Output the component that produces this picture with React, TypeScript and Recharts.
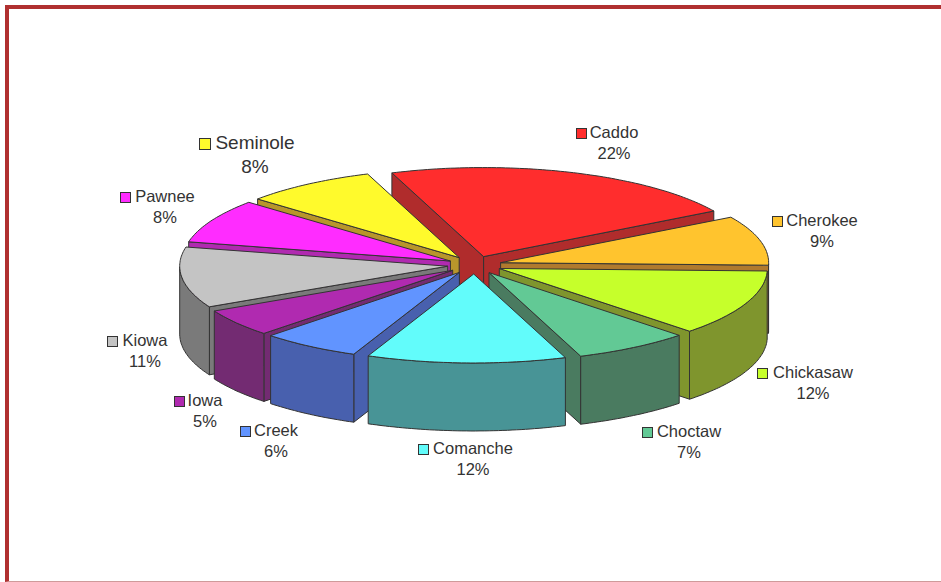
import React from 'react'
import { PieChart, Pie } from 'recharts'

const tribes = ['Caddo', 'Cherokee', 'Chickasaw', 'Choctaw', 'Comanche', 'Creek', 'Iowa', 'Kiowa', 'Pawnee', 'Seminole']
const shares = [22, 9, 12, 7, 12, 6, 5, 11, 8, 8]
const topColors = ['#ff2d2d', '#ffc42e', '#c6ff2b', '#62c995', '#62fcfb', '#6194ff', '#b02ab0', '#c4c4c4', '#ff2cff', '#fffa2c']
const wallColors = ['#b02c2c', '#b07a2e', '#7f952d', '#4a7b60', '#489496', '#4860ae', '#732b72', '#7a7a7a', '#b02ab0', '#b8962b']
// painted back to front, one half of the pie from each side
const rightHalf = ['Caddo', 'Cherokee', 'Chickasaw', 'Choctaw']

const CX = 469.5
const CY = 260
const RX = 268
const SQUASH = 89 / 268
const DEPTH = 68
const EXPLODE = 27
const RAD = Math.PI / 180

const rows = tribes.map((name, i) => ({ name, value: shares[i], top: topColors[i], wall: wallColors[i] }))
const rowsReversed = rows.slice().reverse()

type Pt = { x: number; y: number }

const point = (cx: number, cy: number, r: number, a: number): Pt => ({
  x: cx + r * Math.cos(a * RAD),
  y: cy - r * SQUASH * Math.sin(a * RAD),
})

const path = (pts: Pt[]) => pts.map((p, i) => `${i ? 'L' : 'M'}${p.x.toFixed(1)} ${p.y.toFixed(1)}`).join(' ') + ' Z'
const down = (p: Pt): Pt => ({ x: p.x, y: p.y + DEPTH })

function Slice3D(props: any) {
  const { cx, cy, outerRadius: r, startAngle, endAngle, payload } = props
  const hi = Math.max(startAngle, endAngle)
  const lo = Math.min(startAngle, endAngle)
  const mid = (hi + lo) / 2
  const apex = { x: cx + EXPLODE * Math.cos(mid * RAD), y: cy - EXPLODE * SQUASH * Math.sin(mid * RAD) }
  const steps = Math.max(2, Math.ceil(hi - lo))
  const angles = Array.from({ length: steps + 1 }, (_, i) => hi - ((hi - lo) * i) / steps)
  const arc = angles.map((a) => point(apex.x, apex.y, r, a))
  const first = arc[0]
  const last = arc[arc.length - 1]
  const walls: string[] = []
  // only the walls that face the viewer
  if (Math.sin((hi + 90) * RAD) < 0) walls.push(path([apex, first, down(first), down(apex)]))
  if (Math.sin((lo - 90) * RAD) < 0) walls.push(path([apex, last, down(last), down(apex)]))
  const frontArc = arc.filter((_, i) => Math.sin(angles[i] * RAD) <= 0)
  if (frontArc.length > 1) walls.push(path([...frontArc, ...frontArc.map(down).reverse()]))
  return (
    <g>
      {walls.map((d, i) => (
        <path key={i} d={d} fill={payload.wall} stroke="#333333" strokeWidth={1} strokeLinejoin="round" />
      ))}
      <path d={path([apex, ...arc])} fill={payload.top} stroke="#333333" strokeWidth={1} strokeLinejoin="round" />
    </g>
  )
}

const labelSpots: Record<string, { x: number; y: number; box: number; size?: number }> = {
  Caddo: { x: 614, y: 138, box: 576 },
  Cherokee: { x: 822, y: 226, box: 772 },
  Chickasaw: { x: 813, y: 378, box: 757 },
  Choctaw: { x: 689, y: 437, box: 642 },
  Comanche: { x: 473, y: 454, box: 418 },
  Creek: { x: 276, y: 436, box: 240 },
  Iowa: { x: 205, y: 406, box: 174 },
  Kiowa: { x: 145, y: 346, box: 107 },
  Pawnee: { x: 165, y: 202, box: 120 },
  Seminole: { x: 255, y: 149, box: 199, size: 19 },
}

function SliceLabel(props: any) {
  const { name, value, payload } = props
  const spot = labelSpots[name]
  if (!spot) return null
  const size = spot.size ?? 16.5
  const side = spot.size ? 11 : 10
  return (
    <g fontFamily="Liberation Sans" fontSize={size} fill="#333333">
      <rect x={spot.box + 0.5} y={spot.y - side + 0.5} width={side} height={side} fill={payload.top} stroke="#333333" />
      <text x={spot.x} y={spot.y} textAnchor="middle" stroke="none">{name}</text>
      <text x={spot.x} y={spot.y + (spot.size ? 24 : 21)} textAnchor="middle" stroke="none">{value}%</text>
    </g>
  )
}

export default function App() {
  return (
    <div style={{ position: 'absolute', left: 0, top: 0, width: 941, height: 582, background: '#fff', overflow: 'hidden' }}>
      <div style={{ position: 'absolute', left: 5, top: 5, width: 936, height: 577, boxSizing: 'border-box', borderLeft: '4px solid #b03030', borderTop: '4px solid #b03030', borderBottom: '1px solid #cf9a9a' }} />
      <PieChart width={941} height={582} style={{ position: 'absolute', left: 0, top: 0 }}>
        <Pie data={rows} dataKey="value" nameKey="name" cx={CX} cy={CY} outerRadius={RX} innerRadius={0}
          startAngle={110} endAngle={-250} isAnimationActive={false} stroke="none"
          shape={(p: any) => (rightHalf.includes(p.payload.name) ? <Slice3D {...p} /> : <g />)}
          label={false} labelLine={false} />
        <Pie data={rowsReversed} dataKey="value" nameKey="name" cx={CX} cy={CY} outerRadius={RX} innerRadius={0}
          startAngle={110} endAngle={470} isAnimationActive={false} stroke="none"
          shape={(p: any) => (rightHalf.includes(p.payload.name) ? <g /> : <Slice3D {...p} />)}
          label={SliceLabel} labelLine={false} />
      </PieChart>
    </div>
  )
}
